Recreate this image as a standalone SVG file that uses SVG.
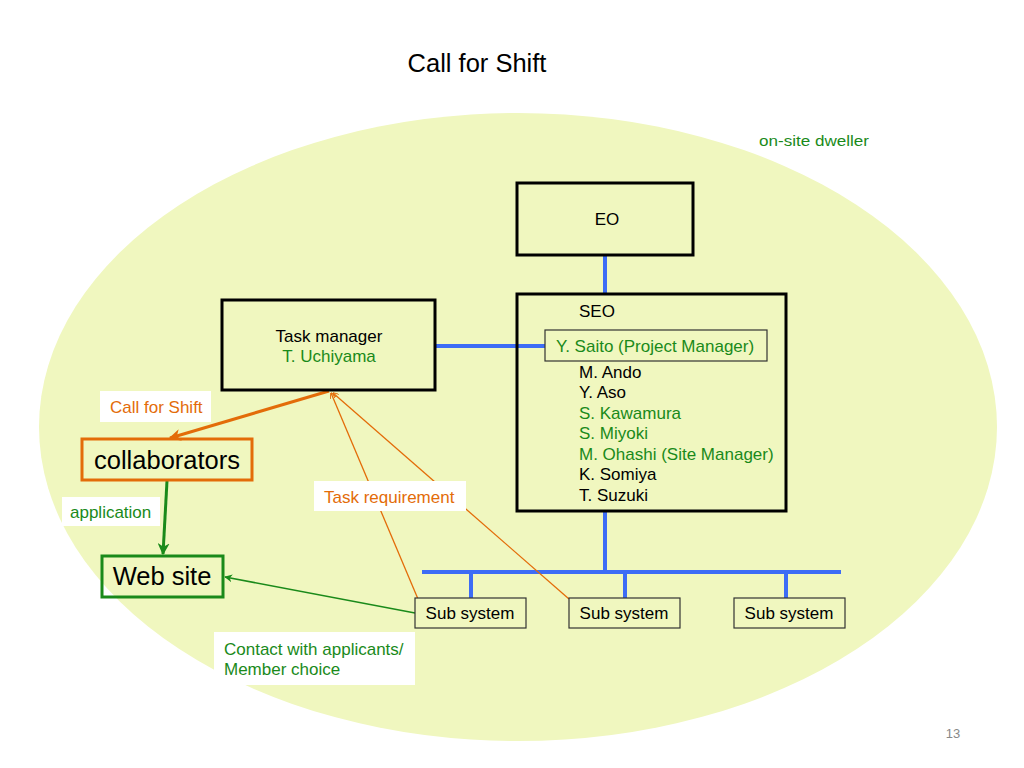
<svg xmlns="http://www.w3.org/2000/svg" width="1024" height="768" viewBox="0 0 1024 768">
<style>
text{font-family:"Liberation Sans",Arial,sans-serif;}
.box{fill:none;stroke:#000;stroke-width:3;}
.thin{fill:#f0f7bf;stroke:#333;stroke-width:1.2;}
.blue{stroke:#3d6cf5;stroke-width:4;fill:none;}
.lbl{fill:#fff;stroke:none;}
.g{fill:#1a8a1a;}
.o{fill:#e36c09;}
.k{fill:#000;}
.s16{font-size:17px;}
</style>
<defs>
<marker id="ao" viewBox="0 0 10 10" refX="9" refY="5" markerWidth="6" markerHeight="6" markerUnits="userSpaceOnUse" orient="auto"><path d="M0,0 L10,5 L0,10" fill="none" stroke="#e36c09" stroke-width="1.5"/></marker>
<marker id="aob" viewBox="0 0 10 10" refX="9" refY="5" markerWidth="12" markerHeight="12" markerUnits="userSpaceOnUse" orient="auto"><path d="M0,0 L10,5 L0,10 L3,5 Z" fill="#e36c09"/></marker>
<marker id="ag" viewBox="0 0 10 10" refX="9" refY="5" markerWidth="12" markerHeight="12" markerUnits="userSpaceOnUse" orient="auto"><path d="M0,0 L10,5 L0,10 L3,5 Z" fill="#1a8a1a"/></marker>
<marker id="agt" viewBox="0 0 10 10" refX="9" refY="5" markerWidth="8" markerHeight="8" markerUnits="userSpaceOnUse" orient="auto"><path d="M0,0 L10,5 L0,10 L3,5 Z" fill="#1a8a1a"/></marker>
</defs>
<rect width="1024" height="768" fill="#fff"/>
<text x="477" y="72" font-size="25.5" text-anchor="middle" class="k">Call for Shift</text>
<ellipse cx="518" cy="427" rx="479" ry="314" fill="#f0f7bf"/>
<text x="759" y="146" font-size="15.5" textLength="110" lengthAdjust="spacingAndGlyphs" class="g">on-site dweller</text>

<g id="connectors">
<line class="blue" x1="605" y1="255" x2="605" y2="294"/>
<line class="blue" x1="435" y1="346" x2="545" y2="346"/>
<line class="blue" x1="605" y1="511" x2="605" y2="572"/>
<line class="blue" x1="422" y1="572" x2="841" y2="572"/>
<line class="blue" x1="471" y1="572" x2="471" y2="598"/>
<line class="blue" x1="625" y1="572" x2="625" y2="598"/>
<line class="blue" x1="786" y1="572" x2="786" y2="598"/>
<line x1="329" y1="391" x2="170" y2="438" stroke="#e36c09" stroke-width="3" marker-end="url(#aob)"/>
<line x1="167" y1="481" x2="163" y2="554" stroke="#1a8a1a" stroke-width="3" marker-end="url(#ag)"/>
<line x1="415" y1="613" x2="225" y2="577" stroke="#1a8a1a" stroke-width="1.5" marker-end="url(#agt)"/>
<line x1="418" y1="599" x2="331" y2="393" stroke="#e36c09" stroke-width="1.3" marker-end="url(#ao)"/>
<line x1="569" y1="599" x2="333" y2="393" stroke="#e36c09" stroke-width="1.3" marker-end="url(#ao)"/>
</g>

<g id="eo">
<rect class="box" x="517" y="183" width="176" height="72"/>
<text x="607" y="225" class="k s16" text-anchor="middle">EO</text>
</g>

<g id="seo">
<rect class="box" x="517" y="294" width="269" height="217"/>
<text x="579" y="317" class="k s16">SEO</text>
<rect class="thin" x="545" y="330" width="222" height="31"/>
<text x="556" y="352" class="g s16">Y. Saito (Project Manager)</text>
<text x="579" y="378" class="k s16">M. Ando</text>
<text x="579" y="398" class="k s16">Y. Aso</text>
<text x="579" y="419" class="g s16">S. Kawamura</text>
<text x="579" y="439" class="g s16">S. Miyoki</text>
<text x="579" y="460" class="g s16">M. Ohashi (Site Manager)</text>
<text x="579" y="480" class="k s16">K. Somiya</text>
<text x="579" y="501" class="k s16">T. Suzuki</text>
</g>

<g id="taskmanager">
<rect class="box" x="222" y="300" width="213" height="90"/>
<text x="329" y="342" class="k s16" text-anchor="middle">Task manager</text>
<text x="329" y="362" class="g s16" text-anchor="middle">T. Uchiyama</text>
</g>

<g id="sub1">
<rect class="thin" x="415" y="598" width="111" height="30"/>
<text x="470" y="619" class="k s16" text-anchor="middle">Sub system</text>
</g>
<g id="sub2">
<rect class="thin" x="569" y="598" width="111" height="30"/>
<text x="624" y="619" class="k s16" text-anchor="middle">Sub system</text>
</g>
<g id="sub3">
<rect class="thin" x="734" y="598" width="111" height="30"/>
<text x="789" y="619" class="k s16" text-anchor="middle">Sub system</text>
</g>

<g id="callforshift-label">
<rect class="lbl" x="100" y="391" width="111" height="31"/>
<text x="110" y="413" class="o s16">Call for Shift</text>
</g>

<g id="collaborators">
<rect x="82" y="439" width="170" height="41" fill="none" stroke="#e36c09" stroke-width="3"/>
<text x="167" y="469" font-size="25.5" class="k" text-anchor="middle">collaborators</text>
</g>

<g id="application-label">
<rect class="lbl" x="62" y="497" width="98" height="29"/>
<text x="70" y="518" class="g s16">application</text>
</g>

<g id="website">
<rect x="102" y="556" width="121" height="41" fill="none" stroke="#1a8a1a" stroke-width="3"/>
<text x="162" y="585" font-size="25.5" class="k" text-anchor="middle">Web site</text>
</g>

<g id="taskreq-label">
<rect class="lbl" x="314" y="481" width="152" height="30"/>
<text x="324" y="503" class="o s16">Task requirement</text>
</g>

<g id="contact-label">
<rect class="lbl" x="214" y="632" width="201" height="53"/>
<text x="224" y="655" class="g s16">Contact with applicants/</text>
<text x="224" y="675" class="g s16">Member choice</text>
</g>

<text x="953" y="738" font-size="13" fill="#888" text-anchor="middle">13</text>
</svg>
